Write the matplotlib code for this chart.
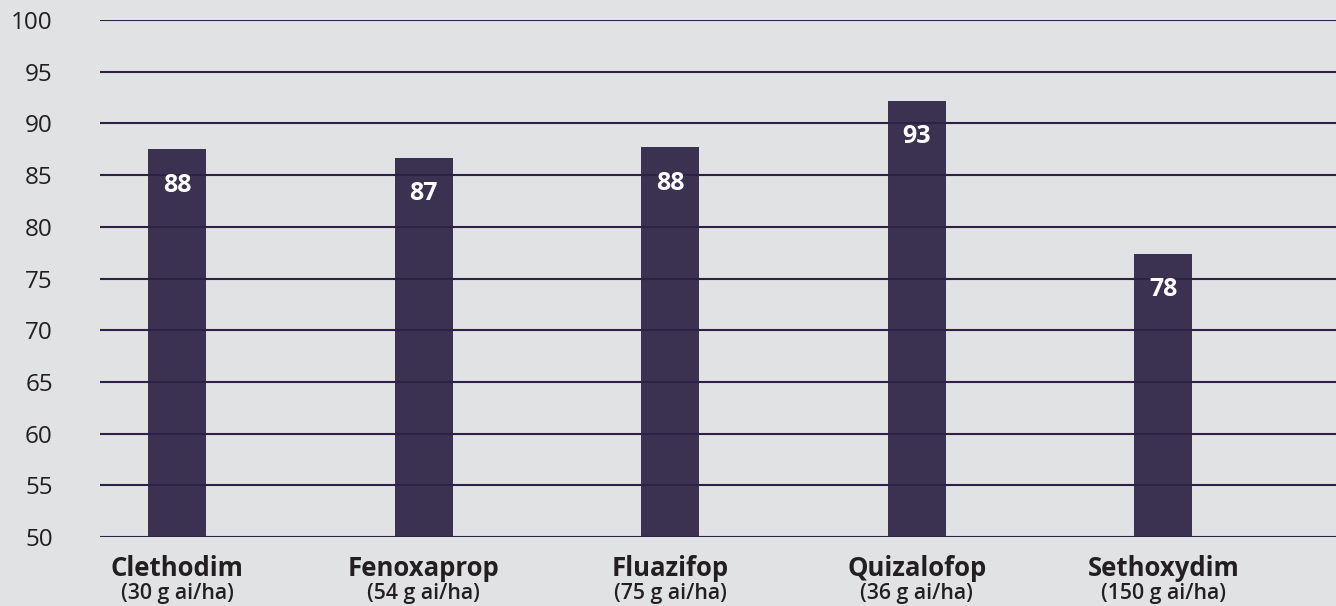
import matplotlib
matplotlib.use("Agg")
import matplotlib.pyplot as plt
import matplotlib.transforms as mtransforms
import numpy as np

# values
herbicides = ["Clethodim", "Fenoxaprop", "Fluazifop", "Quizalofop", "Sethoxydim"]
rates = ["(30 g ai/ha)", "(54 g ai/ha)", "(75 g ai/ha)", "(36 g ai/ha)", "(150 g ai/ha)"]
control = [87.5, 86.7, 87.7, 92.2, 77.4]
value_labels = ["88", "87", "88", "93", "78"]
y_ticks = list(range(50, 101, 5))

BG = "#e1e2e4"
BAR = "#3b3150"
GRID = "#2f2145"
TEXT = "#231f20"

plt.rcParams["font.family"] = ["Open Sans", "DejaVu Sans"]

fig = plt.figure(figsize=(13.36, 6.06), dpi=100, facecolor=BG)
ax = fig.add_axes([100 / 1336, 1 - 537 / 606, 1 - 100 / 1336, (537 - 20) / 606])
ax.set_facecolor(BG)

x = np.arange(len(herbicides))
ax.bar(x, control, width=0.235, bottom=0, color=BAR, zorder=1)

# gridlines sit on top of the bars in the original
for yv in y_ticks:
    ax.axhline(yv, color=GRID, lw=1.5, zorder=2)

ax.set_ylim(50, 100)
ax.set_xlim(-0.312, 4.70)
ax.set_yticks(y_ticks)
ax.set_yticklabels([str(v) for v in y_ticks], fontsize=17.5, color=TEXT)
ax.tick_params(axis="y", length=0, pad=34)

ax.set_xticks(x)
ax.set_xticklabels(herbicides, fontsize=18.5, fontweight="bold", color=TEXT)
ax.tick_params(axis="x", length=0, pad=13)

trans = mtransforms.blended_transform_factory(ax.transData, fig.transFigure)
for xi, r in zip(x, rates):
    ax.text(xi, 1 - 594 / 606, r, transform=trans, ha="center", va="center",
            fontsize=15.3, fontweight="semibold", color=TEXT)

for xi, h, lab in zip(x, control, value_labels):
    ax.annotate(lab, (xi, h), xytext=(0, -26), textcoords="offset points",
                ha="center", va="center", fontsize=18, fontweight="bold",
                color="white", zorder=3)

for s in ax.spines.values():
    s.set_visible(False)

fig.savefig("out.png", dpi=100, facecolor=BG)
